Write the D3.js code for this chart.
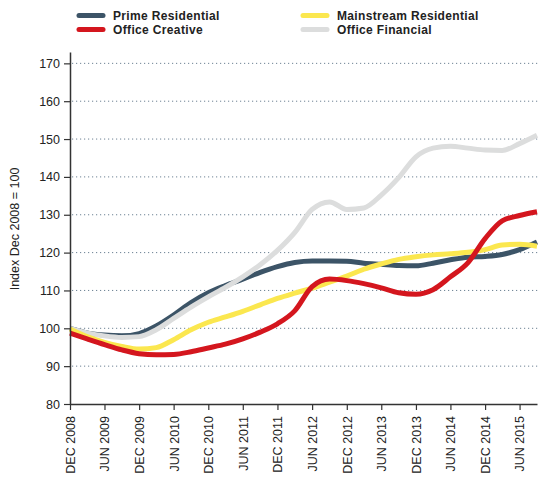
<!DOCTYPE html>
<html>
<head>
<meta charset="utf-8">
<script src="https://cdn.jsdelivr.net/npm/d3@7"></script>
<style>
    body { margin: 0; background: #fff; }
    svg { display: block; font-family: "Liberation Sans", Arial, Helvetica, sans-serif; }
</style>
</head>
<body>
<div id="chart"></div>
<script>
// quarterly readings, Dec 2008 .. Sep 2015
const quarters = ["2008-12", "2009-03", "2009-06", "2009-09", "2009-12", "2010-03", "2010-06", "2010-09",
    "2010-12", "2011-03", "2011-06", "2011-09", "2011-12", "2012-03", "2012-06", "2012-09",
    "2012-12", "2013-03", "2013-06", "2013-09", "2013-12", "2014-03", "2014-06", "2014-09",
    "2014-12", "2015-03", "2015-06", "2015-09"];

const primeResidential = [100, 98.8, 98.2, 98.0, 98.6, 100.6, 103.5, 106.8,
    109.4, 111.3, 113.0, 114.8, 116.3, 117.4, 117.8, 117.8,
    117.7, 117.2, 116.9, 116.6, 116.5, 117.2, 118.1, 118.8,
    119.0, 119.5, 120.8, 122.8];

const mainstreamResidential = [99.8, 97.8, 96.3, 95.2, 94.5, 94.9, 97.0, 99.6,
    101.6, 103.0, 104.5, 106.2, 107.9, 109.3, 110.6, 112.2,
    113.8, 115.6, 117.0, 118.2, 118.9, 119.4, 119.7, 120.1,
    120.8, 122.0, 122.2, 121.7];

const officeCreative = [98.7, 97.2, 95.7, 94.3, 93.3, 93.0, 93.1, 93.8,
    94.8, 95.8, 97.2, 99.0, 101.2, 104.6, 111.0, 113.0,
    112.6, 111.8, 110.7, 109.4, 109.0, 110.2, 113.6, 117.3,
    123.7, 128.4, 129.8, 130.8];

const officeFinancial = [100, 98.8, 98.0, 97.6, 97.8, 99.6, 102.6, 105.6,
    108.3, 110.8, 113.6, 116.8, 120.6, 125.3, 131.4, 133.4,
    131.4, 131.8, 135.2, 139.8, 145.3, 147.6, 148.1, 147.6,
    147.1, 147.0, 148.8, 151.0];

const seriesNames = ["Prime Residential", "Mainstream Residential", "Office Creative", "Office Financial"];
const seriesColors = ["#3c5467", "#fbe74f", "#d4161e", "#dcdddd"];
const yTicks = [80, 90, 100, 110, 120, 130, 140, 150, 160, 170];
const xTickLabels = ["2008-12", "2009-06", "2009-12", "2010-06", "2010-12", "2011-06", "2011-12",
    "2012-06", "2012-12", "2013-06", "2013-12", "2014-06", "2014-12", "2015-06"];

let W = 539, H = 480,
    LEFT = 70, RIGHT = 537, TOP = 52, BOTTOM = 404;

const parseMonth = d3.utcParse("%Y-%m");
const dates = quarters.map(parseMonth);

const series = [
    {name: seriesNames[0], color: seriesColors[0], values: primeResidential},
    {name: seriesNames[1], color: seriesColors[1], values: mainstreamResidential},
    {name: seriesNames[2], color: seriesColors[2], values: officeCreative},
    {name: seriesNames[3], color: seriesColors[3], values: officeFinancial}
];

let svg = d3.select("#chart").append("svg")
    .attr("width", W)
    .attr("height", H);

let x = d3.scaleUtc()
    .domain([parseMonth("2008-12"), parseMonth("2015-09")])
    .range([LEFT, RIGHT]);

let y = d3.scaleLinear()
    .domain([80, 173])
    .range([BOTTOM, TOP]);

// dotted grid lines
svg.append("g")
    .selectAll("line")
    .data(yTicks.filter(d => d > 80))
    .join("line")
    .attr("x1", LEFT + 2)
    .attr("x2", W)
    .attr("y1", d => y(d))
    .attr("y2", d => y(d))
    .attr("stroke", "#6d8294")
    .attr("stroke-width", 1)
    .attr("stroke-dasharray", "1.2,2.8");

// lines - drawn in this order so financial sits over prime, creative on top
let line = d3.line()
    .x((d, i) => x(dates[i]))
    .y(d => y(d))
    .curve(d3.curveMonotoneX);

let drawOrder = [0, 3, 1, 2];
svg.append("g")
    .selectAll("path")
    .data(drawOrder.map(i => series[i]))
    .join("path")
    .attr("fill", "none")
    .attr("stroke", d => d.color)
    .attr("stroke-width", 5)
    .attr("stroke-linejoin", "round")
    .attr("d", d => line(d.values));

// y axis
let yAxis = svg.append("g")
    .attr("transform", `translate(${LEFT},0)`)
    .call(d3.axisLeft(y).tickValues(yTicks).tickSize(6).tickSizeOuter(0).tickPadding(4));
yAxis.select(".domain").attr("stroke", "#333").attr("stroke-width", 1.5);
yAxis.selectAll(".tick line").attr("stroke", "#333").attr("stroke-width", 1.2);
yAxis.selectAll("text")
    .attr("font-size", "12.5px")
    .attr("fill", "#222")
    .attr("font-family", "'Liberation Sans', Arial, sans-serif");

// x axis
let fmt = d3.utcFormat("%b %Y");
let xAxis = svg.append("g")
    .attr("transform", `translate(0,${BOTTOM})`)
    .call(d3.axisBottom(x)
        .tickValues(xTickLabels.map(parseMonth))
        .tickFormat(d => fmt(d).toUpperCase())
        .tickSize(6)
        .tickSizeOuter(0));
xAxis.select(".domain").attr("stroke", "#333").attr("stroke-width", 1.5);
xAxis.selectAll(".tick line").attr("stroke", "#333").attr("stroke-width", 1.2);
xAxis.selectAll("text")
    .attr("font-size", "12.5px")
    .attr("fill", "#222")
    .attr("font-family", "'Liberation Sans', Arial, sans-serif")
    .attr("y", 0)
    .attr("x", -12)
    .attr("dy", "0.35em")
    .attr("transform", "rotate(-90)")
    .style("text-anchor", "end");

// y axis title
svg.append("text")
    .attr("transform", "translate(19,229) rotate(-90)")
    .attr("text-anchor", "middle")
    .attr("font-size", "12.5px")
    .attr("fill", "#222")
    .text("Index Dec 2008 = 100");

// legend
let legendPos = [[77, 15.5], [301, 15.5], [77, 29.5], [301, 29.5]];
let legend = svg.append("g")
    .selectAll("g")
    .data(series)
    .join("g")
    .attr("transform", (d, i) => `translate(${legendPos[i][0]},${legendPos[i][1]})`);

legend.append("line")
    .attr("x1", 2)
    .attr("x2", 26)
    .attr("stroke", d => d.color)
    .attr("stroke-width", 5)
    .attr("stroke-linecap", "round");

legend.append("text")
    .attr("x", 36)
    .attr("y", 4.5)
    .attr("font-size", "12px")
    .attr("font-weight", "bold")
    .attr("letter-spacing", "0.35px")
    .attr("fill", "#222")
    .text(d => d.name);
</script>
</body>
</html>
